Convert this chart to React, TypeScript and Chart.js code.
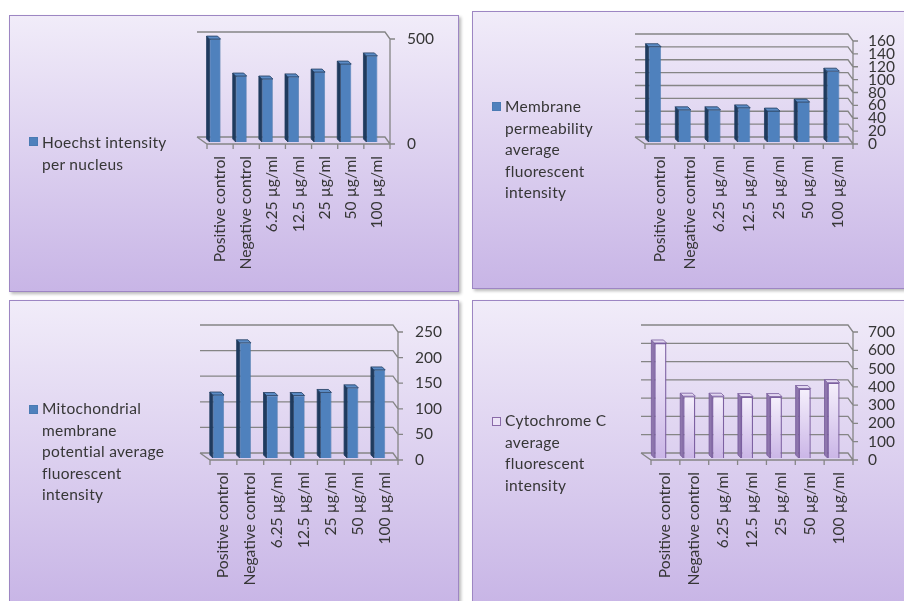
import React, { useEffect, useRef } from "react";
import { Chart, registerables } from "chart.js";

Chart.register(...registerables);

// ---------------- DATA ----------------
const categories = [
  "Positive control",
  "Negative control",
  "6.25 µg/ml",
  "12.5 µg/ml",
  "25 µg/ml",
  "50 µg/ml",
  "100 µg/ml",
];

const hoechstValues = [490, 314, 300, 310, 333, 371, 410];
const membraneValues = [148, 50, 50, 53, 48, 62, 110];
const mitoValues = [123, 225, 122, 122, 128, 137, 172];
const cytoValues = [629, 338, 338, 336, 336, 380, 412];

const hoechstLegend = ["Hoechst intensity", "per nucleus"];
const membraneLegend = ["Membrane", "permeability", "average", "fluorescent", "intensity"];
const mitoLegend = ["Mitochondrial", "membrane", "potential average", "fluorescent", "intensity"];
const cytoLegend = ["Cytochrome C", "average", "fluorescent", "intensity"];

const hoechstAxis = { max: 500, step: 500 };
const membraneAxis = { max: 160, step: 20 };
const mitoAxis = { max: 250, step: 50 };
const cytoAxis = { max: 700, step: 100 };

// ---------------- STYLE ----------------
const FONT = "Lato, 'Open Sans', sans-serif";
const TEXT = "#363636";
const GRID = "#858585";

const depthPlugin = {
  id: "depth3d",
  beforeDatasetsDraw(chart: any, _args: any, opts: any) {
    const { ctx, chartArea } = chart;
    const L = chartArea.left;
    const R = chartArea.right;
    const ys = chart.scales.y;
    const { fx, fy, bx, by } = opts;
    const y0 = ys.getPixelForValue(0);
    const yTop = ys.getPixelForValue(ys.max);
    ctx.save();
    ctx.strokeStyle = GRID;
    ctx.lineWidth = 1.3;
    ctx.beginPath();
    ys.ticks.forEach((t: any) => {
      const y = ys.getPixelForValue(t.value);
      ctx.moveTo(L + bx, y + by);
      ctx.lineTo(R, y + by);
      ctx.lineTo(R + fx, y + fy);
      ctx.lineTo(R + fx + 5, y + fy);
    });
    ctx.moveTo(L + bx, y0 + by);
    ctx.lineTo(L + fx, y0 + fy);
    ctx.lineTo(R + fx, y0 + fy);
    ctx.moveTo(R + fx, y0 + fy);
    ctx.lineTo(R + fx, yTop + fy);
    const n = chart.data.labels.length;
    for (let i = 0; i <= n; i++) {
      const x = L + fx + (i * (R - L)) / n;
      ctx.moveTo(x, y0 + fy);
      ctx.lineTo(x, y0 + fy + 5);
    }
    ctx.stroke();
    ctx.restore();
  },
  afterDatasetsDraw(chart: any, _args: any, opts: any) {
    const { ctx } = chart;
    const meta = chart.getDatasetMeta(0);
    const d = opts.d;
    ctx.save();
    meta.data.forEach((bar: any) => {
      const { x, y, base, width } = bar.getProps(["x", "y", "base", "width"], true);
      const l = x - width / 2;
      const r = x + width / 2;
      ctx.fillStyle = opts.side;
      ctx.strokeStyle = opts.edge;
      ctx.lineWidth = 0.8;
      ctx.beginPath();
      ctx.moveTo(l, y);
      ctx.lineTo(l - d, y - d);
      ctx.lineTo(l - d, base - d);
      ctx.lineTo(l, base);
      ctx.closePath();
      ctx.fill();
      ctx.stroke();
      ctx.fillStyle = opts.top;
      ctx.beginPath();
      ctx.moveTo(l, y);
      ctx.lineTo(l - d, y - d);
      ctx.lineTo(r - d, y - d);
      ctx.lineTo(r, y);
      ctx.closePath();
      ctx.fill();
      ctx.stroke();
    });
    ctx.restore();
  },
};

type Spec = {
  left: number;
  top: number;
  width: number;
  height: number;
  canvasH: number;
  area: { l: number; r: number; t: number; b: number };
  tickPad: number;
  values: number[];
  axis: { max: number; step: number };
  legend: string[];
  legendTop: number;
  markerTop: number;
  purple?: boolean;
};

function BarPanel({ spec }: { spec: Spec }) {
  const ref = useRef<HTMLCanvasElement>(null);
  const cw = spec.width - 2;
  const ch = spec.canvasH;
  useEffect(() => {
    const a = spec.area;
    const purple = !!spec.purple;
    const chart = new Chart(ref.current as HTMLCanvasElement, {
      type: "bar",
      data: {
        labels: categories,
        datasets: [
          {
            label: spec.legend.join(" "),
            data: spec.values,
            backgroundColor: purple
              ? (c: any) => {
                  const ys = c.chart.scales && c.chart.scales.y;
                  if (!ys || c.raw == null) return "#e6dcf3";
                  const yt = ys.getPixelForValue(c.raw);
                  const yb = ys.getPixelForValue(0);
                  if (!isFinite(yt) || !isFinite(yb) || yb - yt < 1) return "#e6dcf3";
                  const g = c.chart.ctx.createLinearGradient(0, yt, 0, yb);
                  g.addColorStop(0, "#f5f0fc");
                  g.addColorStop(1, "#cbb6e7");
                  return g;
                }
              : "#4f81bd",
            borderColor: purple ? "#7d61a2" : "#3f6d9f",
            borderWidth: purple ? 1.4 : 0.6,
            barPercentage: 0.42,
            categoryPercentage: 1,
          },
        ],
      },
      options: {
        responsive: false,
        animation: false,
        layout: { padding: { left: a.l, top: a.t, right: 0, bottom: 0 } },
        plugins: {
          legend: { display: false },
          tooltip: { enabled: false },
          depth3d: purple
            ? { fx: 5, fy: 2, bx: -5, by: -5, d: 3, side: "#8e76ad", top: "#e2d7f1", edge: "#765a9b" }
            : { fx: 5, fy: 2, bx: -5, by: -5, d: 3, side: "#1f3b5e", top: "#5c8cc6", edge: "#1f3b5e" },
        } as any,
        scales: {
          x: {
            grid: { display: false, drawTicks: false },
            border: { display: false },
            ticks: {
              autoSkip: false,
              minRotation: 90,
              maxRotation: 90,
              padding: 14,
              labelOffset: 5,
              color: TEXT,
              font: { family: FONT, size: 15.6 },
            },
            afterFit: (s: any) => {
              s.height = ch - a.b;
              s.paddingLeft = 0;
              s.paddingRight = 0;
            },
          },
          y: {
            position: "right",
            min: 0,
            max: spec.axis.max,
            grid: { display: false, drawTicks: false },
            border: { display: false },
            ticks: {
              stepSize: spec.axis.step,
              autoSkip: false,
              padding: spec.tickPad,
              labelOffset: 2,
              color: TEXT,
              font: { family: FONT, size: 15.5 },
            },
            afterFit: (s: any) => {
              s.width = cw - a.r;
              s.paddingTop = 0;
              s.paddingBottom = 0;
            },
          },
        },
      },
      plugins: [depthPlugin],
    } as any);
    return () => chart.destroy();
  }, []);

  return (
    <div
      style={{
        position: "absolute",
        left: spec.left,
        top: spec.top,
        width: spec.width,
        height: spec.height,
        boxSizing: "border-box",
        border: "1.5px solid #9d86c3",
        background: "linear-gradient(to bottom, #f1ecf9 0%, #c8b5e6 100%)",
        boxShadow: "2px 2px 3px rgba(0,0,0,0.28)",
      }}
    >
      <canvas
        ref={ref}
        width={cw}
        height={ch}
        style={{ position: "absolute", left: 0, top: 0, width: cw, height: ch }}
      />
      <div
        style={{
          position: "absolute",
          left: 19,
          top: spec.markerTop,
          width: 9,
          height: 9,
          boxSizing: "border-box",
          background: spec.purple ? "#ece3f7" : "#4f81bd",
          border: spec.purple ? "1px solid #8a6aa8" : "1px solid #4a7ab3",
        }}
      />
      <div
        style={{
          position: "absolute",
          left: 32,
          top: spec.legendTop,
          fontFamily: FONT,
          fontSize: 15.5,
          letterSpacing: "0.3px",
          lineHeight: "21.5px",
          color: TEXT,
          whiteSpace: "nowrap",
        }}
      >
        {spec.legend.map((line, i) => (
          <div key={i}>{line}</div>
        ))}
      </div>
    </div>
  );
}

const specs: Spec[] = [
  {
    left: 9, top: 15, width: 450, height: 277, canvasH: 274,
    area: { l: 192, r: 375, t: 21, b: 126 }, tickPad: 22,
    values: hoechstValues, axis: hoechstAxis, legend: hoechstLegend,
    legendTop: 116, markerTop: 121,
  },
  {
    left: 472, top: 11, width: 440, height: 278, canvasH: 276,
    area: { l: 167, r: 375, t: 27, b: 130 }, tickPad: 20,
    values: membraneValues, axis: membraneAxis, legend: membraneLegend,
    legendTop: 84, markerTop: 90,
  },
  {
    left: 9, top: 300, width: 450, height: 306, canvasH: 300,
    area: { l: 195, r: 383, t: 29, b: 157 }, tickPad: 22,
    values: mitoValues, axis: mitoAxis, legend: mitoLegend,
    legendTop: 97, markerTop: 104,
  },
  {
    left: 472, top: 300, width: 440, height: 306, canvasH: 300,
    area: { l: 173, r: 375, t: 29, b: 157 }, tickPad: 20,
    values: cytoValues, axis: cytoAxis, legend: cytoLegend,
    legendTop: 109, markerTop: 116, purple: true,
  },
];

export default function App() {
  return (
    <div
      style={{
        position: "absolute",
        left: 0,
        top: 0,
        width: 904,
        height: 601,
        overflow: "hidden",
        background: "#ffffff",
      }}
    >
      {specs.map((s, i) => (
        <BarPanel key={i} spec={s} />
      ))}
    </div>
  );
}
